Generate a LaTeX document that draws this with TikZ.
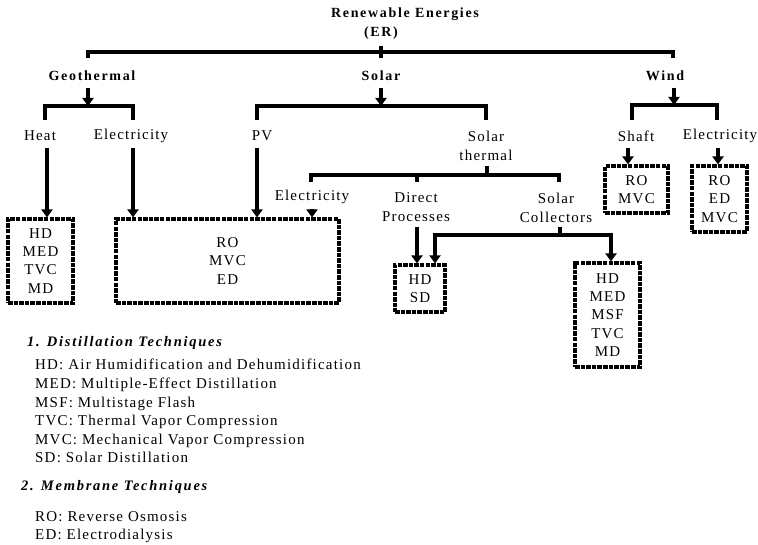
\documentclass[tikz,border=0pt]{standalone}
\usepackage{fontspec}
\setmainfont{Liberation Serif}
\newfontfamily\lsf[LetterSpace=8]{Liberation Serif}
\newfontfamily\lsb[LetterSpace=12]{Liberation Serif}
\usetikzlibrary{arrows.meta}
\tikzset{
  lab/.style={inner sep=0pt, align=center, font=\fontsize{15}{18.8}\selectfont\lsf},
  bld/.style={inner sep=0pt, align=center, font=\fontsize{14}{18}\selectfont\lsb\bfseries},
  dbox/.style={draw, line width=3.1pt, dash pattern=on 4.5pt off 1.1pt, inner sep=0pt, align=center, font=\fontsize{15}{18.2}\selectfont\lsf},
  bar/.style={line width=4pt},
  arr/.style={line width=4pt, -{Triangle[width=11pt,length=8pt]}},
  arr2/.style={line width=4pt, {Triangle[width=11pt,length=8pt]}-{Triangle[width=11pt,length=8pt]}},
  leg/.style={inner sep=0pt, anchor=base west, font=\fontsize{15}{18.5}\selectfont\lsf},
  legh/.style={inner sep=0pt, anchor=base west, font=\fontsize{14.5}{18}\selectfont\lsb\bfseries\itshape},
}
\begin{document}
\begin{tikzpicture}[x=1pt,y=-1pt]
\useasboundingbox (0,0) rectangle (758,545);
% titles
\node[bld] (ren) at (405,14) {Renewable Energies};
\node[bld] (er) at (381,33) {(ER)};
\node[bld] (geo) at (92,76) {Geothermal};
\node[bld] (sol) at (381,76) {Solar};
\node[bld] (wind) at (665,76) {Wind};
% labels
\node[lab] (heat) at (40,136) {Heat};
\node[lab] (gel) at (131,136) {Electricity};
\node[lab] (pv) at (262,136) {PV};
\node[lab] (sth) at (486,145.5) {Solar\\thermal};
\node[lab] (shaft) at (636,136) {Shaft};
\node[lab] (wel) at (720,136) {Electricity};
\node[lab] (sel) at (312,197) {Electricity};
\node[lab] (dir) at (416,207.5) {Direct\\Processes};
\node[lab] (col) at (556,207.5) {Solar\\Collectors};
% boxes
\node[dbox, minimum width=65, minimum height=84] (b1) at (40.5,261) {HD\\MED\\TVC\\MD};
\node[dbox, minimum width=223, minimum height=84] (b2) at (227.5,261) {RO\\MVC\\ED};
\node[dbox, minimum width=50, minimum height=47] (b3) at (420,288.5) {HD\\SD};
\node[dbox, minimum width=65, minimum height=104] (b4) at (607.5,315) {HD\\MED\\MSF\\TVC\\MD};
\node[dbox, minimum width=63, minimum height=47] (b5) at (636.5,189.5) {RO\\MVC};
\node[dbox, minimum width=55, minimum height=66] (b6) at (719.5,199) {RO\\ED\\MVC};
% top level
\coordinate (erT) at (381,46); \coordinate (erB) at (381,58);
\coordinate (topL) at (88,58); \coordinate (topR) at (673,58);
\draw[bar] (topL) -- ++(0,-6) -| (topR);
\draw[bar] (erT) -- (erB);
% geothermal
\coordinate (gA) at (88,88); \coordinate (gB) at (88,106);
\draw[arr] (gA) -- (gB);
\coordinate (gL) at (45,120); \coordinate (gR) at (133,120);
\draw[bar] (gL) -- ++(0,-14) -| (gR);
\coordinate (hA) at (47,148);
\draw[arr] (hA) -- (hA |- b1.north);
\coordinate (geA) at (133,148);
\draw[arr] (geA) -- (geA |- b2.north);
% solar
\coordinate (sA) at (381,88); \coordinate (sB) at (381,106);
\draw[arr] (sA) -- (sB);
\coordinate (sL) at (257,120); \coordinate (sR) at (486,120);
\draw[bar] (sL) -- ++(0,-14) -| (sR);
\coordinate (pvA) at (257,148);
\draw[arr] (pvA) -- (pvA |- b2.north);
% solar thermal
\coordinate (tA) at (487,166); \coordinate (tB) at (487,175);
\draw[bar] (tA) -- (tB);
\coordinate (tL) at (311,182); \coordinate (tR) at (559,182);
\draw[bar] (tL) -- ++(0,-7) -| (tR);
\coordinate (tM) at (417,175); \coordinate (tN) at (417,182);
\draw[bar] (tM) -- (tN);
\coordinate (seA) at (312,209);
\draw[arr] (seA) -- (seA |- b2.north);
\coordinate (dA) at (417,227);
\draw[arr] (dA) -- (dA |- b3.north);
% collectors
\coordinate (cA) at (560,227); \coordinate (cB) at (560,235);
\draw[bar] (cA) -- (cB);
\coordinate (cL) at (435,235); \coordinate (cR) at (611,235);
\draw[arr2] (cL |- b3.north) -- (cL) -- (cR) -- (cR |- b4.north);
% wind
\coordinate (wA) at (674,88); \coordinate (wB) at (674,105);
\draw[arr] (wA) -- (wB);
\coordinate (wL) at (632,120); \coordinate (wR) at (717,120);
\draw[bar] (wL) -- ++(0,-15) -| (wR);
\coordinate (shA) at (628,148);
\draw[arr] (shA) -- (shA |- b5.north);
\coordinate (weA) at (718,148);
\draw[arr] (weA) -- (weA |- b6.north);
% legend
\node[legh] (l1) at (27,347) {1. Distillation Techniques};
\node[leg] (l1a) at (35,370) {HD: Air Humidification and Dehumidification};
\node[leg] (l1b) at (35,388.5) {MED: Multiple-Effect Distillation};
\node[leg] (l1c) at (35,407) {MSF: Multistage Flash};
\node[leg] (l1d) at (35,425.5) {TVC: Thermal Vapor Compression};
\node[leg] (l1e) at (35,444) {MVC: Mechanical Vapor Compression};
\node[leg] (l1f) at (35,462.5) {SD: Solar Distillation};
\node[legh] (l2) at (21,490) {2. Membrane Techniques};
\node[leg] (l2a) at (35,521) {RO: Reverse Osmosis};
\node[leg] (l2b) at (35,539) {ED: Electrodialysis};
\end{tikzpicture}
\end{document}
